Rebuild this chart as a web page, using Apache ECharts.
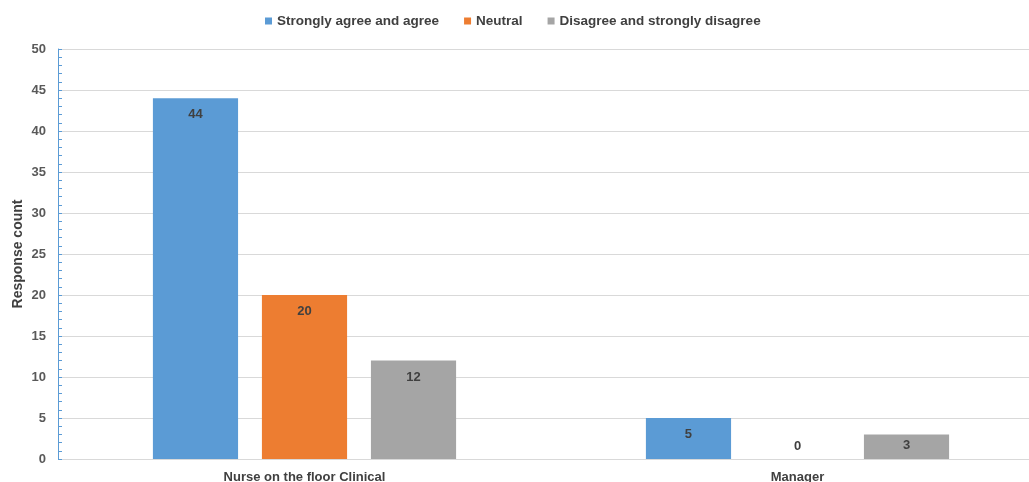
<!DOCTYPE html>
<html>
<head>
<meta charset="utf-8">
<script src="https://cdn.jsdelivr.net/npm/echarts@6/dist/echarts.min.js"></script>
<style>
  html, body { margin: 0; padding: 0; background: #ffffff; }
  #chart { width: 1029px; height: 482px; }
</style>
</head>
<body>
<div id="chart"></div>
<script>
// Response counts by role
const categories = ['Nurse on the floor Clinical', 'Manager'];
const seriesNames = ['Strongly agree and agree', 'Neutral', 'Disagree and strongly disagree'];
const agreeValues = [44, 5];
const neutralValues = [20, 0];
const disagreeValues = [12, 3];
const seriesColors = ['#5b9bd5', '#ed7d31', '#a5a5a5'];

const FONT = 'Liberation Sans, Arial, sans-serif';
const TEXT = '#404040';

// zero-height bars get their label just above the baseline,
// very short bars keep the label closer to their top edge
function toData(values) {
  return values.map(v => {
    if (v === 0) return { value: v, label: { position: 'top', distance: 6 } };
    if (v < 4) return { value: v, label: { distance: 5 } };
    return { value: v };
  });
}

const chart = echarts.init(document.getElementById('chart'), null, { renderer: 'canvas' });

const valueLists = [agreeValues, neutralValues, disagreeValues];

chart.setOption({
  animation: false,
  textStyle: { fontFamily: FONT },
  legend: {
    top: 9,
    left: 260,
    itemWidth: 7,
    itemHeight: 7,
    itemGap: 25,
    icon: 'rect',
    textStyle: { fontFamily: FONT, fontSize: 13.5, fontWeight: 'bold', color: TEXT },
    data: seriesNames
  },
  grid: {
    left: 58, top: 49, right: -15, bottom: 23,
    containLabel: false,
    outerBoundsMode: 'none'
  },
  xAxis: {
    type: 'category',
    data: categories,
    axisLine: { show: false },
    axisTick: { show: false },
    axisLabel: { fontFamily: FONT, fontSize: 13, fontWeight: 'bold', color: TEXT, margin: 12 }
  },
  yAxis: {
    type: 'value',
    min: 0,
    max: 50,
    interval: 5,
    name: 'Response count',
    nameLocation: 'middle',
    nameGap: 33,
    nameMoveOverlap: false,
    nameTextStyle: { fontFamily: FONT, fontSize: 14, fontWeight: 'bold', color: TEXT },
    axisLine: { show: true, lineStyle: { color: '#5b9bd5', width: 1 } },
    axisTick: { show: true, inside: true, length: 4, lineStyle: { color: '#5b9bd5' } },
    minorTick: { show: true, splitNumber: 5, length: 4, lineStyle: { color: '#5b9bd5' } },
    axisLabel: { fontFamily: FONT, fontSize: 13, fontWeight: 'bold', color: '#595959', margin: 12 },
    splitLine: { show: true, lineStyle: { color: '#d9d9d9', width: 1 } }
  },
  series: seriesNames.map((name, i) => ({
    name,
    type: 'bar',
    data: toData(valueLists[i]),
    barGap: '28%',
    barCategoryGap: '38.5%',
    itemStyle: { color: seriesColors[i] },
    label: {
      show: true,
      position: 'insideTop',
      distance: 10,
      fontFamily: FONT,
      fontSize: 13,
      fontWeight: 'bold',
      color: TEXT
    }
  }))
});
</script>
</body>
</html>
